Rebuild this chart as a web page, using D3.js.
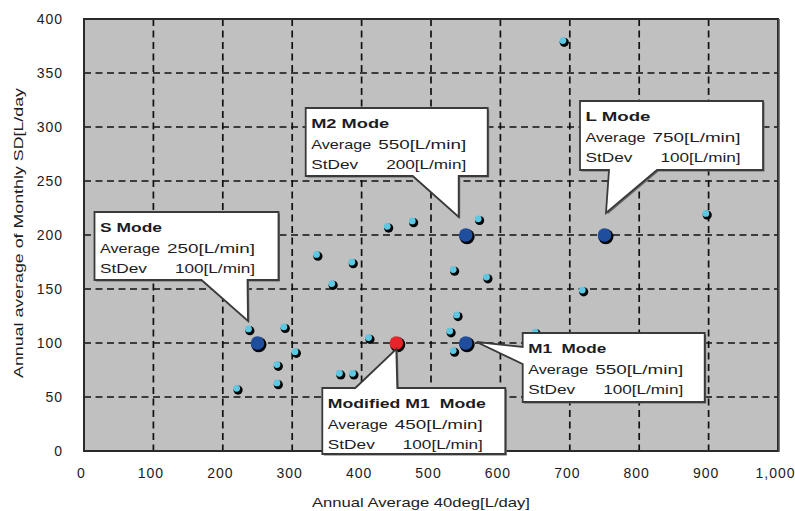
<!DOCTYPE html>
<html><head><meta charset="utf-8">
<script src="https://cdn.jsdelivr.net/npm/d3@7"></script>
<style>body{margin:0;background:#fff}svg{display:block}</style>
</head><body><svg id="c" width="795" height="511"></svg>
<script>
// ---- data ----
const pointsX = [690, 896, 568, 437, 473, 335, 386, 357, 532, 580, 718, 537, 527, 532, 410, 368, 387, 237, 288, 304, 278, 278, 220, 650];
const pointsY = [380, 220, 215, 208, 213, 182, 175, 155, 168, 161, 149, 126, 111, 93, 105, 72, 72, 113, 115, 92, 80, 63, 58, 110];
const modeNames = ["S Mode", "M2 Mode", "L Mode", "M1  Mode", "Modified M1  Mode"];
const modeX = [250, 550, 750, 550, 450];
const modeY = [100, 200, 200, 100, 100];
const modeAvgText = ["250[L/min]", "550[L/min]", "750[L/min]", "550[L/min]", "450[L/min]"];
const modeSdText = ["100[L/min]", "200[L/min]", "100[L/min]", "100[L/min]", "100[L/min]"];
const xTicks = [0, 100, 200, 300, 400, 500, 600, 700, 800, 900, 1000];
const yTicks = [0, 50, 100, 150, 200, 250, 300, 350, 400];
const xTitle = "Annual Average 40deg[L/day]";
const yTitle = "Annual average of Monthly SD[L/day";

// ---- layout ----
const svg = d3.select("#c");
const x = d3.scaleLinear().domain([0, 1000]).range([84, 778]);
const y = d3.scaleLinear().domain([0, 400]).range([451, 19]);
const font = "'Liberation Sans', Arial, sans-serif";
const textCol = "#1c1c24";

// plot background
svg.append("rect").attr("x", x(0)).attr("y", y(400))
  .attr("width", x(1000) - x(0)).attr("height", y(0) - y(400))
  .attr("fill", "#c0c0c0");

// grid
const g = svg.append("g");
g.selectAll("line.v").data(xTicks.filter(d => d > 0 && d < 1000)).join("line")
  .attr("x1", d => x(d)).attr("x2", d => x(d)).attr("y1", y(400)).attr("y2", y(0))
  .attr("stroke", "#111").attr("stroke-width", 1.7).attr("stroke-dasharray", "7,4.5");
g.selectAll("line.h").data(yTicks.filter(d => d > 0 && d < 400)).join("line")
  .attr("y1", d => y(d)).attr("y2", d => y(d)).attr("x1", x(0)).attr("x2", x(1000))
  .attr("stroke", "#111").attr("stroke-width", 1.7).attr("stroke-dasharray", "7,4.5");

// border
svg.append("rect").attr("x", x(0)).attr("y", y(400))
  .attr("width", x(1000) - x(0)).attr("height", y(0) - y(400))
  .attr("fill", "none").attr("stroke", "#2a2a2a").attr("stroke-width", 2);
svg.append("line").attr("x1", x(1000) + 1).attr("x2", x(1000) + 1).attr("y1", y(400)).attr("y2", y(0) + 1)
  .attr("stroke", "#555").attr("stroke-width", 1.5);

// axis tick labels
const xAxis = d3.axisBottom(x).tickValues(xTicks).tickSize(0).tickPadding(0).tickFormat(d3.format(","));
const xa = svg.append("g").attr("transform", `translate(-3,${y(0) + 27})`).call(xAxis);
xa.select(".domain").remove();
xa.selectAll("text").attr("font-family", font).attr("font-size", 14).attr("fill", textCol)
  .attr("letter-spacing", 1).attr("dy", 0);
const yAxis = d3.axisLeft(y).tickValues(yTicks).tickSize(0).tickPadding(0);
const ya = svg.append("g").attr("transform", `translate(63,0)`).call(yAxis);
ya.select(".domain").remove();
ya.selectAll("text").attr("font-family", font).attr("font-size", 14).attr("fill", textCol)
  .attr("letter-spacing", 1);

// axis titles
svg.append("text").attr("x", 421).attr("y", 507).attr("text-anchor", "middle")
  .attr("font-family", font).attr("font-size", 13).attr("fill", textCol)
  .attr("textLength", 218).attr("lengthAdjust", "spacingAndGlyphs").text(xTitle);
svg.append("text").attr("transform", "translate(23,233) rotate(-90)").attr("text-anchor", "middle")
  .attr("font-family", font).attr("font-size", 13).attr("fill", textCol)
  .attr("textLength", 290).attr("lengthAdjust", "spacingAndGlyphs").text(yTitle);

// small points
const pts = pointsX.map((v, i) => ({ x: v, y: pointsY[i] }));
svg.append("g").selectAll("circle").data(pts).join("circle")
  .attr("cx", d => x(d.x) + 1.4).attr("cy", d => y(d.y) + 1.7).attr("r", 4.6).attr("fill", "#050505");
svg.append("g").selectAll("circle").data(pts).join("circle")
  .attr("cx", d => x(d.x)).attr("cy", d => y(d.y)).attr("r", 3.4).attr("fill", "#5ec8e2");

// callouts (pixel offsets relative to mode point)
const callouts = [
  { dx: -163, dy: -131, w: 184, h: 68, side: "bottom", b1: 107, b2: 153, tx: -9.5, ty: -22 },
  { dx: -160, dy: -127, w: 182, h: 68, side: "bottom", b1: 107, b2: 153, tx: -7, ty: -18 },
  { dx: -24.5, dy: -134, w: 183, h: 69, side: "bottom", b1: 29, b2: 77, tx: 1.5, ty: -22 },
  { dx: 57, dy: -10, w: 182, h: 69, side: "left", b1: 14, b2: 31, tx: 11, ty: -1 },
  { dx: -74, dy: 45, w: 183, h: 66, side: "top", b1: 33, b2: 75, tx: 0, ty: 6 }
];

const modes = modeNames.map((n, i) => ({ name: n, x: modeX[i], y: modeY[i], avg: modeAvgText[i], sd: modeSdText[i], c: callouts[i], red: i === 4 }));

// mode points
const mg = svg.append("g");
mg.selectAll("circle.s").data(modes).join("circle")
  .attr("cx", d => x(d.x) + 1.3).attr("cy", d => y(d.y) + 1.6).attr("r", 7.7).attr("fill", "#050505");
mg.selectAll("circle.f").data(modes).join("circle")
  .attr("cx", d => x(d.x)).attr("cy", d => y(d.y)).attr("r", 6.8)
  .attr("fill", d => d.red ? "#e8232a" : "#1f4e9f");

function calloutPath(px, py, c) {
  const bx = px + c.dx, by = py + c.dy;
  const p = d3.path();
  if (c.side === "bottom") {
    p.moveTo(bx, by); p.lineTo(bx + c.w, by); p.lineTo(bx + c.w, by + c.h);
    p.lineTo(bx + c.b2, by + c.h); p.lineTo(px + c.tx, py + c.ty); p.lineTo(bx + c.b1, by + c.h);
    p.lineTo(bx, by + c.h); p.closePath();
  } else if (c.side === "top") {
    p.moveTo(bx, by); p.lineTo(bx + c.b1, by); p.lineTo(px + c.tx, py + c.ty); p.lineTo(bx + c.b2, by);
    p.lineTo(bx + c.w, by); p.lineTo(bx + c.w, by + c.h); p.lineTo(bx, by + c.h); p.closePath();
  } else {
    p.moveTo(bx, by); p.lineTo(bx + c.w, by); p.lineTo(bx + c.w, by + c.h);
    p.lineTo(bx, by + c.h); p.lineTo(bx, by + c.b2); p.lineTo(px + c.tx, py + c.ty);
    p.lineTo(bx, by + c.b1); p.closePath();
  }
  return p.toString();
}

const cg = svg.append("g").selectAll("g").data(modes).join("g");
cg.append("path").attr("d", d => calloutPath(x(d.x), y(d.y), d.c))
  .attr("transform", "translate(1.5,1.5)").attr("fill", "#6a6a6a");
cg.append("path").attr("d", d => calloutPath(x(d.x), y(d.y), d.c))
  .attr("fill", "#fff").attr("stroke", "#3a3a3a").attr("stroke-width", 1.8).attr("stroke-linejoin", "miter");

function tx(d) { return x(d.x) + d.c.dx + 5.5; }
function ty(d) { return y(d.y) + d.c.dy; }
cg.append("text").attr("x", tx).attr("y", d => ty(d) + 20)
  .attr("font-family", font).attr("font-size", 13).attr("font-weight", "bold").attr("fill", textCol)
  .style("white-space", "pre")
  .attr("textLength", d => d.red ? 158 : (d.name.startsWith("S") ? 62 : d.name.startsWith("L") ? 65 : 78))
  .attr("lengthAdjust", "spacingAndGlyphs").text(d => d.name);
cg.append("text").attr("x", tx).attr("y", d => ty(d) + 41)
  .attr("font-family", font).attr("font-size", 13).attr("fill", textCol)
  .attr("textLength", 60).attr("lengthAdjust", "spacingAndGlyphs").text("Average");
cg.append("text").attr("x", d => tx(d) + 67).attr("y", d => ty(d) + 41)
  .attr("font-family", font).attr("font-size", 13).attr("fill", textCol)
  .attr("textLength", 88).attr("lengthAdjust", "spacingAndGlyphs").text(d => d.avg);
cg.append("text").attr("x", tx).attr("y", d => ty(d) + 61)
  .attr("font-family", font).attr("font-size", 13).attr("fill", textCol)
  .attr("textLength", 47).attr("lengthAdjust", "spacingAndGlyphs").text("StDev");
cg.append("text").attr("x", d => tx(d) + 75).attr("y", d => ty(d) + 61)
  .attr("font-family", font).attr("font-size", 13).attr("fill", textCol)
  .attr("textLength", 80).attr("lengthAdjust", "spacingAndGlyphs").text(d => d.sd);
</script>
</body></html>
